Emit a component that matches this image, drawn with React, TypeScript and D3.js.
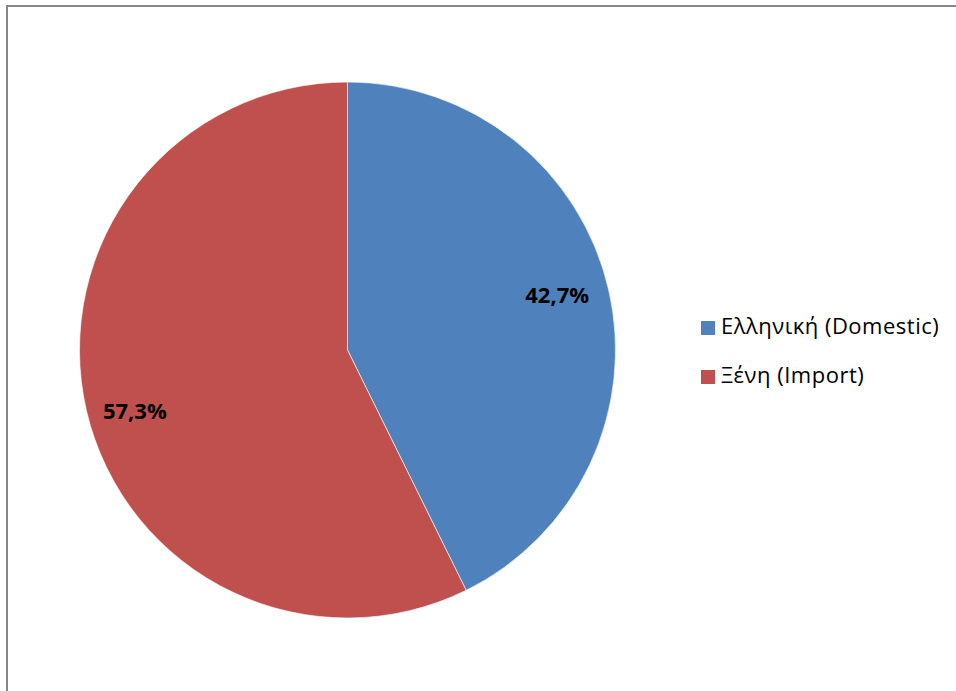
import React from "react";
import * as d3 from "d3";

const categories = ["Ελληνική (Domestic)", "Ξένη (Import)"];
const values = [42.7, 57.3];
const labels = ["42,7%", "57,3%"];
const colors = ["#4F81BD", "#C0504D"];

export default function App() {
  const W = 956, H = 691;
  const cx = 347.5, cy = 350, r = 268;
  const pie = d3.pie<number>().sort(null).value((d) => d);
  const arcs = pie(values);
  const arc = d3.arc<d3.PieArcDatum<number>>().innerRadius(0).outerRadius(r);
  const lr = r * 0.817;
  const labelArc = d3.arc<any>().innerRadius(lr).outerRadius(lr);
  const shift = -0.038;
  return (
    <svg width={W} height={H} style={{ position: "absolute", left: 0, top: 0, fontFamily: "Open Sans, sans-serif" }}>
      <rect x={0} y={0} width={W} height={H} fill="#fff" />
      <rect x={7} y={6} width={W + 20} height={H + 20} fill="none" stroke="#868686" strokeWidth={2} />
      <g transform={`translate(${cx},${cy})`}>
        {arcs.map((a, i) => (
          <path key={i} d={arc(a) || ""} fill={colors[i]} stroke="#fff" strokeWidth={0.6} />
        ))}
        <g transform="translate(-1.5,2)">
          {arcs.map((a, i) => {
            const [x, y] = labelArc.centroid({ startAngle: a.startAngle + shift, endAngle: a.endAngle + shift });
            return (
              <text key={"l" + i} x={x} y={y} textAnchor="middle" dominantBaseline="central" fontWeight="bold" fontSize={22} fill="#000">
                {labels[i]}
              </text>
            );
          })}
        </g>
      </g>
      {categories.map((c, i) => (
        <g key={c} transform={`translate(701,${328 + i * 49})`}>
          <rect x={0} y={-7} width={14} height={14} fill={colors[i]} />
          <text x={20} y={-3} dominantBaseline="central" fontSize={22} letterSpacing={0.5} fill="#000">{c}</text>
        </g>
      ))}
    </svg>
  );
}
